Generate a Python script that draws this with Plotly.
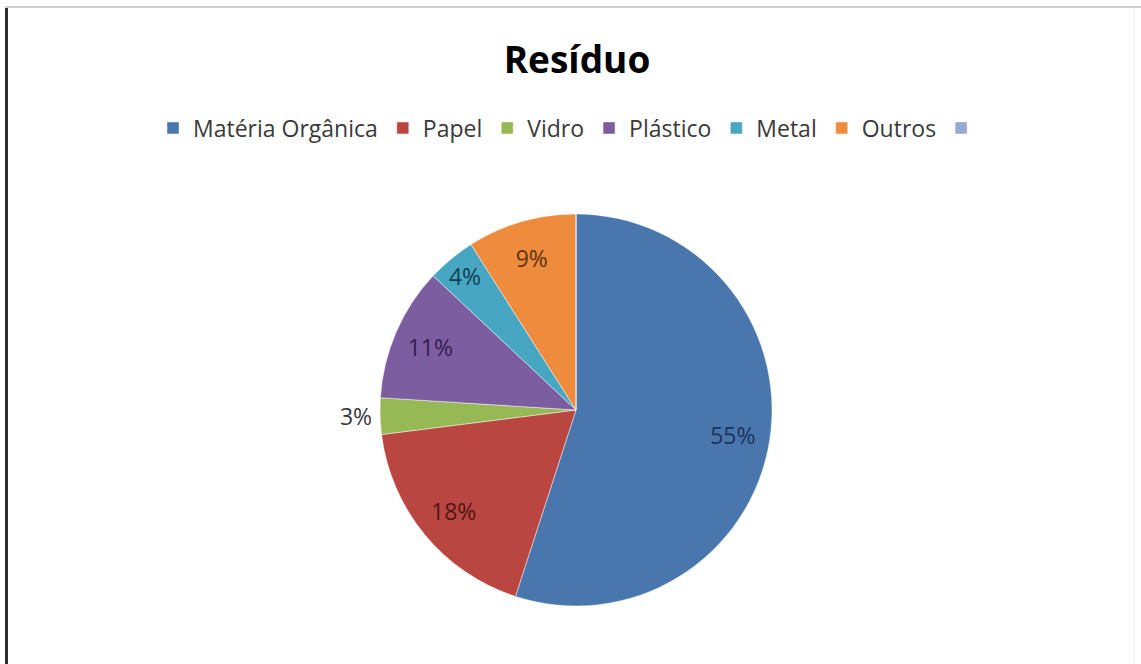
import plotly.graph_objects as go

# ---- data ----
categories = ["Matéria Orgânica", "Papel", "Vidro", "Plástico", "Metal", "Outros", " "]
values = [55, 18, 3, 11, 4, 9, 0]
slice_colors = ["#4A76AE", "#BA4642", "#97B955", "#7C5DA0", "#47A7C2", "#EE8B3C", "#97A9D1"]
label_colors = ["#1A3459", "#521614", "#3A3A3A", "#341F52", "#123F50", "#613210", "#3A3A3A"]
title_text = "Resíduo"

W, H = 1141, 664
cx, cy, R = 576, 410, 196

dom_x = [(cx - R) / W, (cx + R) / W]
dom_y = [(H - (cy + R)) / H, (H - (cy - R)) / H]

fig = go.Figure()

# main pie (colours, legend, outside label for the tiny slice)
fig.add_trace(go.Pie(
    labels=categories,
    values=values,
    sort=False,
    direction="clockwise",
    rotation=0,
    marker=dict(colors=slice_colors, line=dict(color="rgba(255,255,255,0.45)", width=1)),
    textinfo="percent",
    textposition=["none", "none", "outside", "none", "none", "none", "none"],
    textfont=dict(family="Open Sans", size=23, color=label_colors),
    domain=dict(x=dom_x, y=dom_y),
    showlegend=True,
    hoverinfo="label+percent",
))

# transparent ring overlay: places inside labels near the outer part of each slice
fig.add_trace(go.Pie(
    labels=categories,
    values=values,
    sort=False,
    direction="clockwise",
    rotation=0,
    hole=0.62,
    marker=dict(colors=["rgba(0,0,0,0)"] * len(values), line=dict(width=0)),
    textinfo="percent",
    textposition=["inside", "inside", "none", "inside", "inside", "inside", "none"],
    insidetextorientation="horizontal",
    textfont=dict(family="Open Sans", size=23, color=label_colors),
    domain=dict(x=dom_x, y=dom_y),
    showlegend=False,
    hoverinfo="skip",
))

fig.update_layout(
    width=W, height=H,
    margin=dict(l=0, r=0, t=0, b=0),
    paper_bgcolor="white",
    plot_bgcolor="white",
    font=dict(family="Open Sans", color="#404040"),
    title=dict(
        text="<b>" + title_text + "</b>",
        x=577 / W, xanchor="center",
        y=1 - 60 / H, yanchor="middle",
        font=dict(family="Open Sans", size=37, color="#000000"),
    ),
    legend=dict(
        orientation="h",
        x=573 / W, xanchor="center",
        y=1 - 128 / H, yanchor="middle",
        font=dict(family="Open Sans", size=23, color="#3A3A3A"),
        itemwidth=30,
        traceorder="normal",
    ),
    uniformtext=dict(minsize=23, mode="show"),
    shapes=[
        dict(type="line", xref="paper", yref="paper",
             x0=6.5 / W, x1=6.5 / W, y0=0, y1=1 - 6 / H,
             line=dict(color="#2E2E2E", width=3)),
        dict(type="line", xref="paper", yref="paper",
             x0=5 / W, x1=1, y0=1 - 7 / H, y1=1 - 7 / H,
             line=dict(color="#CFCFCF", width=2)),
        dict(type="line", xref="paper", yref="paper",
             x0=1134 / W, x1=1134 / W, y0=0, y1=1 - 8 / H,
             line=dict(color="#F0F0F0", width=1)),
    ],
)

fig.write_html("out.html")
